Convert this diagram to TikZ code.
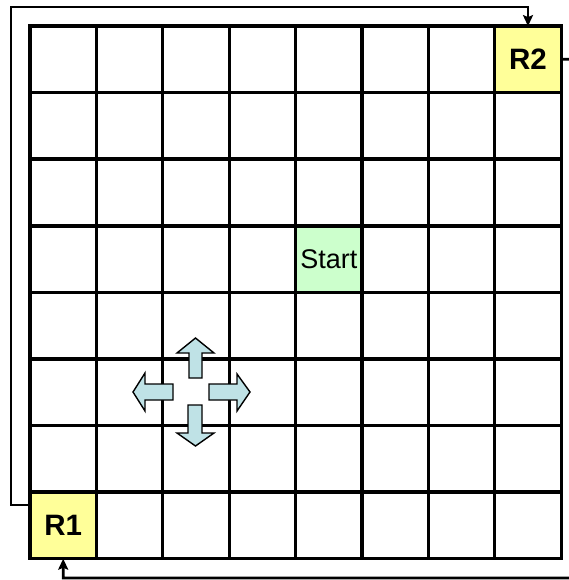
\documentclass[tikz,border=0pt]{standalone}
\usepackage{fontspec}
\setmainfont{Liberation Sans}
\usetikzlibrary{arrows.meta,calc}
\definecolor{ryellow}{HTML}{FFFF99}
\definecolor{sgreen}{HTML}{CCFFCC}
\definecolor{arrfill}{HTML}{BFE2E6}
\tikzset{
  cell/.style={draw=black,line width=3.3pt,minimum size=66.4pt,inner sep=0pt,outer sep=0pt},
  rcell/.style={cell,fill=ryellow,font=\fontsize{29.5}{31}\selectfont\bfseries},
  scell/.style={cell,fill=sgreen,font=\fontsize{27}{29}\selectfont},
  conn/.style={line width=2.8pt,-{Stealth[length=11pt,width=10pt,inset=2pt]}},
  barrow/.style={draw=black,line width=1.4pt,fill=arrfill,line join=miter}
}
\begin{document}
\begin{tikzpicture}[x=1pt,y=-1pt]
\useasboundingbox (0,0) rectangle (569,580);
\clip (0,0) rectangle (569,580);
\fill[white] (0,0) rectangle (569,580);
\foreach \i in {0,...,7}{
  \foreach \j in {0,...,7}{
    \node[cell] (c-\i-\j) at ({30+66.4*(\i+0.5)},{26+66.6*(\j+0.5)}) {};
  }
}
\node[rcell] (r1) at (c-0-7) {R1};
\node[rcell] (r2) at (c-7-0) {R2};
\node[scell] (start) at (c-4-3) {Start};
% loops
\draw[conn] (r1.west |- 0,505) -- (11,505) |- (r2.north |- 0,7) -- (r2.north);
\draw[conn] (r2.east) -- (580,59) |- (r1.south |- 0,578) -- (r1.south);
% block arrows
\draw[barrow] (189,378) -- (189,353) -- (177,353) -- (195.5,338) -- (214,353) -- (202,353) -- (202,378) -- cycle;
\draw[barrow] (188,405) -- (188,433) -- (177,433) -- (195.5,446) -- (214,433) -- (202,433) -- (202,405) -- cycle;
\draw[barrow] (173,384) -- (145,384) -- (145,373) -- (133,392) -- (145,411) -- (145,400) -- (173,400) -- cycle;
\draw[barrow] (209,384) -- (237,384) -- (237,374) -- (250,392) -- (237,411) -- (237,400) -- (209,400) -- cycle;
\end{tikzpicture}
\end{document}
